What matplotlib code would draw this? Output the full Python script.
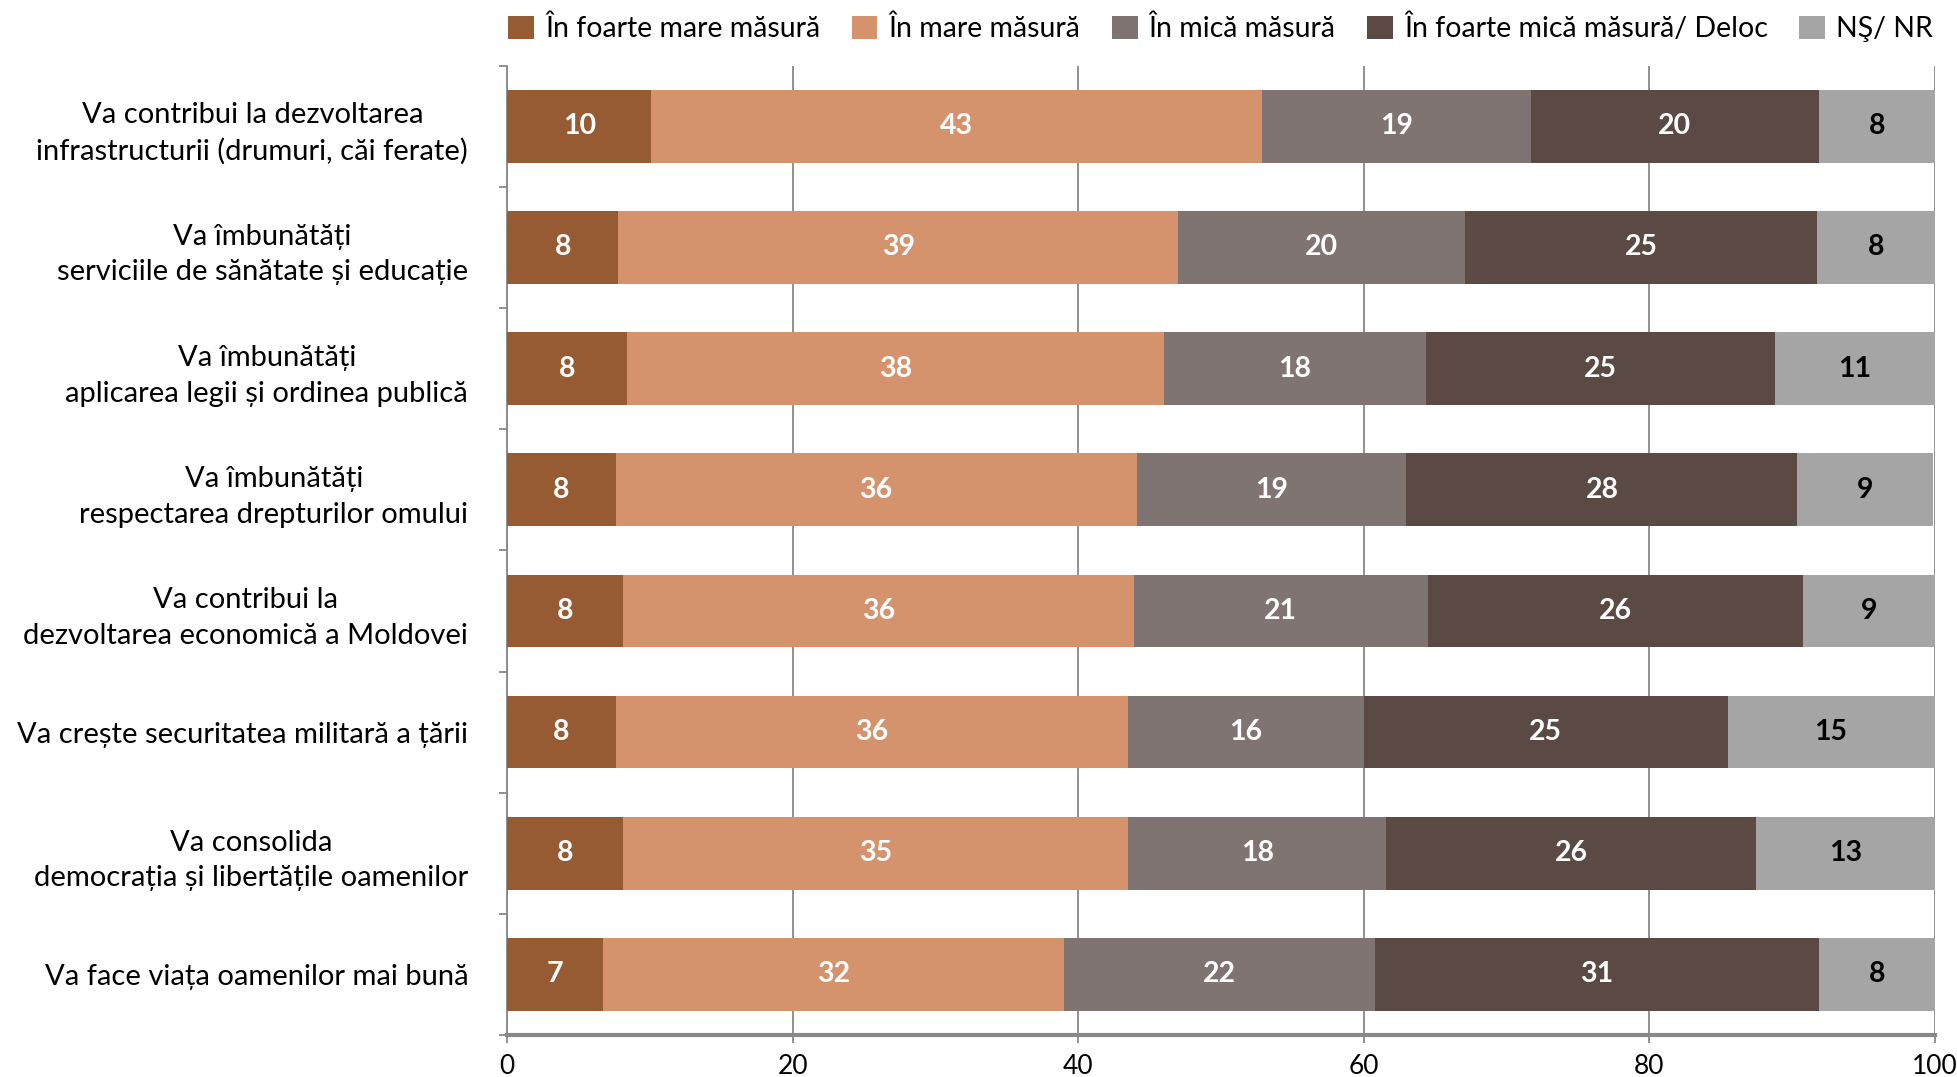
import matplotlib
matplotlib.use("Agg")
import matplotlib.pyplot as plt
from matplotlib.patches import Patch
import numpy as np

plt.rcParams['font.family'] = ['Lato', 'DejaVu Sans']

categories = [
    "Va contribui la dezvoltarea\ninfrastructurii (drumuri, căi ferate)",
    "Va îmbunătăți\nserviciile de sănătate și educație",
    "Va îmbunătăți\naplicarea legii și ordinea publică",
    "Va îmbunătăți\nrespectarea drepturilor omului",
    "Va contribui la\ndezvoltarea economică a Moldovei",
    "Va crește securitatea militară a țării",
    "Va consolida\ndemocrația și libertățile oamenilor",
    "Va face viața oamenilor mai bună",
]
series_names = ["În foarte mare măsură", "În mare măsură", "În mică măsură",
                "În foarte mică măsură/ Deloc", "NŞ/ NR"]
foarte_mare = [10.1, 7.8, 8.4, 7.6, 8.1, 7.6, 8.1, 6.7]
mare = [42.8, 39.2, 37.6, 36.5, 35.8, 35.9, 35.4, 32.3]
mica = [18.8, 20.1, 18.4, 18.9, 20.6, 16.5, 18.1, 21.8]
foarte_mica = [20.2, 24.7, 24.4, 27.4, 26.3, 25.5, 25.9, 31.1]
ns_nr = [8.1, 8.2, 11.2, 9.5, 9.3, 14.5, 12.5, 8.1]
labels = [
    [10, 8, 8, 8, 8, 8, 8, 7],
    [43, 39, 38, 36, 36, 36, 35, 32],
    [19, 20, 18, 19, 21, 16, 18, 22],
    [20, 25, 25, 28, 26, 25, 26, 31],
    [8, 8, 11, 9, 9, 15, 13, 8],
]
colors = ["#965B32", "#D4936D", "#7F7471", "#5A4A43", "#A5A5A5"]
text_colors = ["white", "white", "white", "white", "black"]

series = [foarte_mare, mare, mica, foarte_mica, ns_nr]

fig = plt.figure(figsize=(19.58, 10.77), dpi=100)
ax = fig.add_axes([0.259, 0.039, 0.729, 0.900])

y = np.arange(len(categories))
left = np.zeros(len(categories))
for vals, col, tcol, labs in zip(series, colors, text_colors, labels):
    vals = np.array(vals)
    ax.barh(y, vals, left=left, height=0.6, color=col, zorder=3)
    for yi, (l, v, lab) in enumerate(zip(left, vals, labs)):
        ax.text(l + v / 2, yi, str(lab), ha='center', va='center', color=tcol,
                fontsize=20.5, fontweight='bold', zorder=4)
    left += vals

ax.set_xlim(0, 100)
ax.set_ylim(len(categories) - 0.5, -0.5)
ax.set_xticks([0, 20, 40, 60, 80, 100])
ax.tick_params(axis='x', labelsize=19, length=6, width=1.3, color='#888888', pad=8)
ax.xaxis.grid(True, color='#888888', linewidth=1.3, zorder=0)

ax.set_yticks(y)
ax.set_yticklabels(categories, fontsize=21, multialignment='center', linespacing=1.45)
ax.set_yticks(np.arange(-0.5, len(categories), 1.0), minor=True)
ax.tick_params(axis='y', which='major', length=0, pad=28)
ax.tick_params(axis='y', which='minor', length=6, width=1.3, color='#888888')

for s in ['top', 'right']:
    ax.spines[s].set_visible(False)
ax.spines['left'].set_color('#888888')
ax.spines['left'].set_linewidth(1.3)
ax.spines['bottom'].set_color('#888888')
ax.spines['bottom'].set_linewidth(3)

handles = [Patch(facecolor=c, label=n) for c, n in zip(colors, series_names)]
fig.legend(handles=handles, loc='center', bbox_to_anchor=(0.6235, 0.974), ncol=5,
           frameon=False, fontsize=20.5, handlelength=0.9, handleheight=0.9,
           handletextpad=0.4, columnspacing=1.1)

fig.savefig("out.png", dpi=100)
